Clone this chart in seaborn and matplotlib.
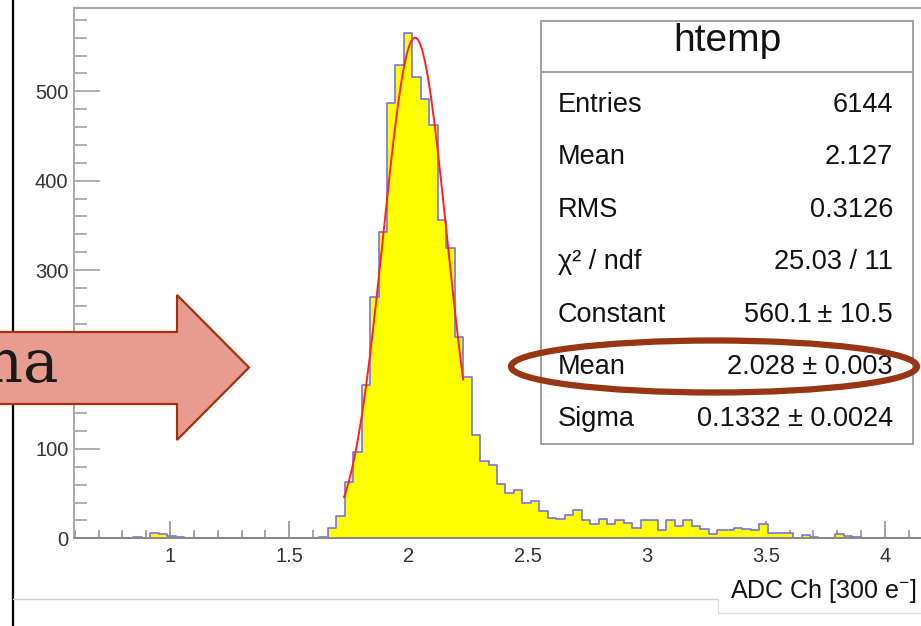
import numpy as np
import pandas as pd
import seaborn as sns
import matplotlib.pyplot as plt
from matplotlib.patches import Polygon, Ellipse, Rectangle
from matplotlib.lines import Line2D
from matplotlib.ticker import MultipleLocator, FixedLocator

# ---------------- data ----------------
X_MIN, X_MAX, N_BINS = 0.597, 4.147, 100

# bin contents (htemp, 100 bins between X_MIN and X_MAX)
counts_low = [0, 0, 0, 0, 0, 0, 0, 2, 0, 6, 5, 3, 2, 0, 0, 0, 0, 0, 0, 0,
              0, 0, 0, 0, 0, 0, 0, 0, 0]
counts_peak = [2, 12, 25, 63, 96, 171, 270, 343, 487, 529,
               565, 516, 491, 462, 356, 325, 225, 180, 116, 87]
counts_tail = [82, 61, 51, 54, 40, 42, 31, 23, 22, 26,
               32, 21, 16, 22, 16, 20, 17, 12, 21, 21,
               9, 21, 14, 20, 14, 10, 5, 9, 9, 12,
               10, 9, 16, 6, 6, 6, 0, 4, 2, 0,
               0, 5, 3, 2, 0, 0, 0, 0, 0, 0, 0]

# fit result (gaus)
FIT_CONST, FIT_CONST_ERR = 560.1, 10.5
FIT_MEAN, FIT_MEAN_ERR = 2.028, 0.003
FIT_SIGMA, FIT_SIGMA_ERR = 0.1332, 0.0024
FIT_RANGE = (1.73, 2.23)

# statistics
ENTRIES = 6144
HIST_MEAN = 2.127
HIST_RMS = 0.3126
CHI2, NDF = 25.03, 11

x_ticks = [1, 1.5, 2, 2.5, 3, 3.5, 4]
x_tick_labels = ["1", "1.5", "2", "2.5", "3", "3.5", "4"]
y_ticks = [0, 100, 200, 300, 400, 500]
y_tick_labels = ["0", "100", "200", "300", "400", "500"]

# ---------------- figure ----------------
sns.set_style("ticks")
plt.rcParams["font.family"] = ["Liberation Sans", "DejaVu Sans"]
plt.rcParams["mathtext.fontset"] = "custom"
plt.rcParams["mathtext.rm"] = "Liberation Sans"

W, H = 921, 626
fig = plt.figure(figsize=(W / 100, H / 100), dpi=100)


def fx(x):
    return x / W


def fy(y):
    return 1 - y / H


ax = fig.add_axes([fx(74), fy(538.3), (920 - 74) / W, (538.3 - 8) / H])

counts = np.array(counts_low + counts_peak + counts_tail, dtype=int)
edges = np.linspace(X_MIN, X_MAX, N_BINS + 1)
centers = 0.5 * (edges[:-1] + edges[1:])
# one row per entry, placed at its bin centre
hist_df = pd.DataFrame({"adc": np.repeat(centers, counts)})

sns.histplot(data=hist_df, x="adc", bins=list(edges),
             element="step", fill=True, facecolor="#ffff00",
             edgecolor="#7474e6", linewidth=1.2, alpha=1.0, ax=ax)

fit_x = np.linspace(FIT_RANGE[0], FIT_RANGE[1], 300)
fit_df = pd.DataFrame({
    "adc": fit_x,
    "n": FIT_CONST * np.exp(-0.5 * ((fit_x - FIT_MEAN) / FIT_SIGMA) ** 2),
})
sns.lineplot(data=fit_df, x="adc", y="n", color="#ff2020", linewidth=1.4,
             ax=ax, zorder=4)

ax.set_xlim(X_MIN, X_MAX)
ax.set_ylim(0, 1.05 * counts.max())
ax.set_xlabel("")
ax.set_ylabel("")
ax.xaxis.set_major_locator(FixedLocator(x_ticks))
ax.set_xticklabels(x_tick_labels)
ax.xaxis.set_minor_locator(MultipleLocator(0.1))
ax.yaxis.set_major_locator(FixedLocator(y_ticks))
ax.set_yticklabels(y_tick_labels)
ax.yaxis.set_minor_locator(MultipleLocator(20))
# the "200" label sits under the pointer arrow
ax.get_yticklabels()[2].set_visible(False)

ax.tick_params(axis="x", which="major", direction="in", length=12.5,
               width=1.1, color="#8a8a8a", labelsize=14.5,
               labelcolor="#333333", pad=6)
ax.tick_params(axis="x", which="minor", direction="in", length=6,
               width=1.1, color="#8a8a8a")
ax.tick_params(axis="y", which="major", direction="in", length=18.5,
               width=1.1, color="#9a9a9a", labelsize=14.5,
               labelcolor="#333333", pad=4)
ax.tick_params(axis="y", which="minor", direction="in", length=9.3,
               width=1.1, color="#9a9a9a")
ax.spines["right"].set_visible(False)
ax.spines["top"].set_color("#a8a8a8")
ax.spines["top"].set_linewidth(1.6)
ax.spines["left"].set_color("#a8a8a8")
ax.spines["left"].set_linewidth(1.4)
ax.spines["bottom"].set_color("#8a8a8a")
ax.spines["bottom"].set_linewidth(1.4)

# ---------------- statistics box ----------------
box_l, box_r, box_t, box_b, div_y = 541, 913, 21, 444, 72
fig.add_artist(Rectangle((fx(box_l), fy(box_b)), (box_r - box_l) / W,
                         (box_b - box_t) / H, transform=fig.transFigure,
                         facecolor="white", edgecolor="#9a9a9a",
                         linewidth=1.3, zorder=5))
fig.add_artist(Line2D([fx(box_l), fx(box_r)], [fy(div_y), fy(div_y)],
                      transform=fig.transFigure, color="#9a9a9a",
                      linewidth=1.3, zorder=6))
fig.text(fx(727.5), fy(51), "htemp", ha="center", va="baseline",
         fontsize=28, color="#111111", zorder=6)

stat_labels = ["Entries", "Mean", "RMS", "χ² / ndf", "Constant", "Mean", "Sigma"]
stat_values = [
    f"{ENTRIES}",
    f"{HIST_MEAN:.3f}",
    f"{HIST_RMS:.4f}",
    f"{CHI2:.2f} / {NDF}",
    f"{FIT_CONST:.1f}\u2009± {FIT_CONST_ERR:.1f}",
    f"{FIT_MEAN:.3f} ± {FIT_MEAN_ERR:.3f}",
    f"{FIT_SIGMA:.4f} ± {FIT_SIGMA_ERR:.4f}",
]
for i, (lab, val) in enumerate(zip(stat_labels, stat_values)):
    base = 112 + 52.4 * i
    fig.text(fx(558), fy(base), lab, ha="left", va="baseline",
             fontsize=19.5, color="#111111", zorder=6)
    fig.text(fx(893), fy(base), val, ha="right", va="baseline",
             fontsize=19.5, color="#111111", zorder=6)

# highlight around the fitted mean
fig.add_artist(Ellipse((fx(714), fy(366.5)), 406 / W, 52 / H,
                       transform=fig.transFigure, facecolor="none",
                       edgecolor="#983514", linewidth=4.5, zorder=7))

# ---------------- page decorations ----------------
fig.add_artist(Line2D([fx(12.7), fx(12.7)], [0, 1], transform=fig.transFigure,
                      color="black", linewidth=1.6, zorder=3))
fig.add_artist(Line2D([fx(13), fx(718)], [fy(599), fy(599)],
                      transform=fig.transFigure, color="#cccccc",
                      linewidth=1.0, zorder=3))
fig.add_artist(Rectangle((fx(718), fy(613)), (W + 5 - 718) / W, 45 / H,
                         transform=fig.transFigure, facecolor="white",
                         edgecolor="none", zorder=4))
fig.add_artist(Line2D([fx(718), fx(718), fx(W + 2)],
                      [fy(599), fy(613), fy(613)],
                      transform=fig.transFigure, color="#dddddd",
                      linewidth=1.0, zorder=4))
fig.text(fx(916), fy(598), r"ADC Ch [300 e$^{\mathregular{-}}$]",
         ha="right", va="baseline", fontsize=18, color="#111111", zorder=6)

# pointer arrow
arrow_pts = [(-5, 332), (177, 332), (177, 295), (249, 367.5),
             (177, 440), (177, 404), (-5, 404)]
fig.add_artist(Polygon([(fx(x), fy(y)) for x, y in arrow_pts], closed=True,
                       transform=fig.transFigure, facecolor="#e89c90",
                       edgecolor="#a3300f", linewidth=1.6, zorder=8))
fig.text(fx(59), fy(382), "Sigma", ha="right", va="baseline",
         fontsize=43, family="DejaVu Serif", color="#1a1a1a", zorder=9)

fig.savefig("out.png", dpi=100)
